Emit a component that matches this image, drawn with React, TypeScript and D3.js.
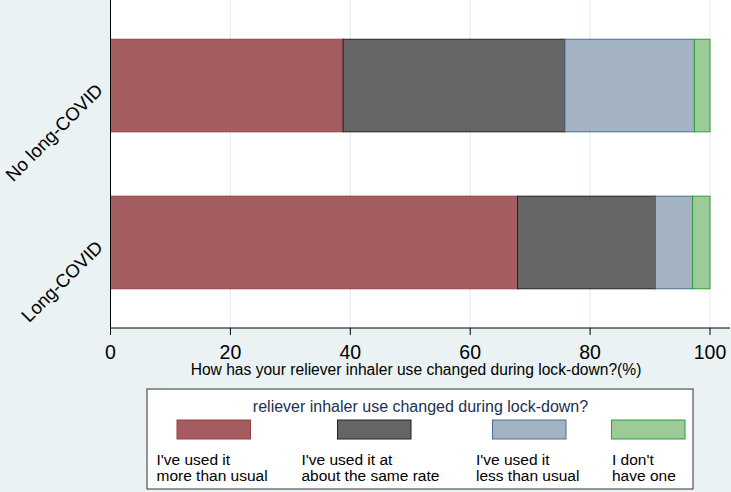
import React from 'react';
import * as d3 from 'd3';

// Share of respondents (%) per answer, one value per group
const groups = ['No long-COVID', 'Long-COVID'];
const answerKeys = ['more', 'same', 'less', 'none'];
const answerLines = [
  ["I've used it", 'more than usual'],
  ["I've used it at", 'about the same rate'],
  ["I've used it", 'less than usual'],
  ["I don't", 'have one'],
];
const moreThanUsual = [38.8, 67.9];
const sameRate = [37.0, 23.0];
const lessThanUsual = [21.6, 6.2];
const dontHaveOne = [2.6, 2.9];
const xTicks = [0, 20, 40, 60, 80, 100];

const fills = ['#a45c60', '#666666', '#a3b3c4', '#9ccb98'];
const strokes = ['#983f47', '#222222', '#4a6e95', '#2f9e36'];

const W = 731;
const H = 492;
const FONT = '"Liberation Sans", Arial, sans-serif';

export default function App() {
  const rows = groups.map((g, i) => ({
    group: g,
    more: moreThanUsual[i],
    same: sameRate[i],
    less: lessThanUsual[i],
    none: dontHaveOne[i],
  }));
  const series = d3.stack<any>().keys(answerKeys)(rows);

  const plotLeft = 110.5;
  const plotBottom = 328;
  const x = d3.scaleLinear().domain([0, 100]).range([plotLeft, 710]);
  const y = d3.scaleBand().domain(groups).range([0, plotBottom])
    .paddingInner(0.41).paddingOuter(0.25);

  // legend layout
  const legend = { x: 147, y: 389, w: 546, h: 100 };
  const swatchX = [177, 337.5, 492.5, 611.5];
  const labelX = [156.5, 301.5, 476, 612];

  return (
    <svg width={W} height={H} style={{ position: 'absolute', left: 0, top: 0, display: 'block' }}
      fontFamily={FONT}>
      <rect x={0} y={0} width={W} height={H} fill="#eaf2f3" />
      <rect x={plotLeft} y={0} width={W - plotLeft} height={plotBottom} fill="#ffffff" />

      {/* gridlines */}
      {xTicks.filter(t => t > 0).map(t => (
        <line key={t} x1={x(t)} x2={x(t)} y1={0} y2={plotBottom} stroke="#e6eef1" strokeWidth={1.2} />
      ))}

      {/* stacked bars */}
      {series.map((s, si) => (
        <g key={s.key}>
          {s.map((d: any) => (
            <rect key={d.data.group}
              x={x(d[0])} y={y(d.data.group)}
              width={x(d[1]) - x(d[0])} height={y.bandwidth()}
              fill={fills[si]} stroke={strokes[si]} strokeWidth={1} />
          ))}
        </g>
      ))}

      {/* axes */}
      <line x1={plotLeft} x2={plotLeft} y1={0} y2={plotBottom} stroke="#000" strokeWidth={1} />
      <line x1={plotLeft} x2={730} y1={plotBottom} y2={plotBottom} stroke="#000" strokeWidth={1} />
      {xTicks.map(t => (
        <g key={t} transform={`translate(${x(t)},${plotBottom})`}>
          <line y1={0} y2={7} stroke="#000" />
          <text y={31} textAnchor="middle" fontSize={19.5} fill="#000">{t}</text>
        </g>
      ))}
      <text x={416} y={375} textAnchor="middle" fontSize={15.6} fill="#000">
        How has your reliever inhaler use changed during lock-down?(%)
      </text>

      {groups.map(g => (
        <text key={g} transform={`translate(104,${(y(g) as number) + y.bandwidth() / 2 + 6}) rotate(-45)`}
          textAnchor="end" fontSize={18.5} fill="#000">{g}</text>
      ))}

      {/* legend */}
      <rect x={legend.x} y={legend.y} width={legend.w} height={legend.h} fill="#fff" stroke="#333" strokeWidth={1} />
      <text x={420.5} y={412} textAnchor="middle" fontSize={16} fill="#1c3152">
        reliever inhaler use changed during lock-down?
      </text>
      {answerKeys.map((k, i) => (
        <g key={k}>
          <rect x={swatchX[i]} y={420} width={73.5} height={19}
            fill={fills[i]} stroke={strokes[i]} strokeWidth={1} />
          {answerLines[i].map((line, li) => (
            <text key={li} x={labelX[i]} y={465 + li * 16} fontSize={15.5} fill="#000">{line}</text>
          ))}
        </g>
      ))}
    </svg>
  );
}
